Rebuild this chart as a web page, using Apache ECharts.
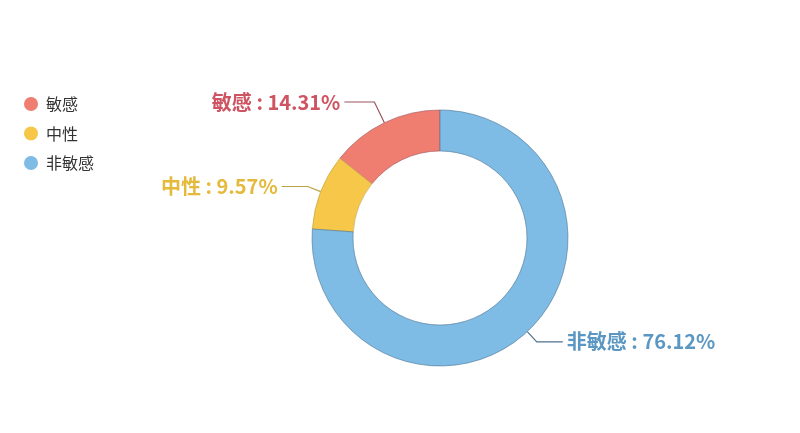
<!DOCTYPE html>
<html><head><meta charset="utf-8">
<script src="https://cdn.jsdelivr.net/npm/echarts@6/dist/echarts.min.js"></script>
<style>html,body{margin:0;padding:0;background:#fff}#c{width:800px;height:433px}</style>
</head><body><div id="c"></div>
<script>
const categories = ['敏感', '中性', '非敏感'];
const values = [14.31, 9.57, 76.12];
const sliceColors = ['#EF7D70', '#F6C748', '#7EBBE5'];
const textColors = ['#CF5462', '#E5B93A', '#5B97C3'];
const lineColors = ['#9A5560', '#B8A24A', '#4E7390'];
const lineLengths = [23, 14, 14];
const line2Lengths = [30, 26, 26];

const chart = echarts.init(document.getElementById('c'), null, {renderer: 'canvas'});
chart.setOption({
  animation: false,
  textStyle: {fontFamily: '"Noto Sans CJK SC", "Noto Sans", sans-serif'},
  legend: {
    orient: 'vertical', left: 19, top: 91,
    icon: 'circle', itemWidth: 14, itemHeight: 14, itemGap: 13.5,
    itemStyle: {borderWidth: 0},
    textStyle: {fontSize: 16, color: '#333', padding: [0, 0, 0, 3]},
    data: categories
  },
  series: [{
    type: 'pie',
    center: [440, 238],
    radius: [87, 128],
    startAngle: 90,
    clockwise: false,
    avoidLabelOverlap: false,
    label: {
      show: true, position: 'outside',
      formatter: '{b} : {d}%',
      fontSize: 20, fontWeight: 'bold',
      distanceToLabelLine: 4
    },
    labelLine: {show: true, length: 14, length2: 26, lineStyle: {width: 1.2}},
    data: categories.map((n, i) => ({
      name: n, value: values[i],
      itemStyle: {color: sliceColors[i], borderColor: lineColors[i], borderWidth: 0.6},
      label: {color: textColors[i]},
      labelLine: {length: lineLengths[i], length2: line2Lengths[i], lineStyle: {color: lineColors[i]}}
    }))
  }]
});
</script></body></html>
